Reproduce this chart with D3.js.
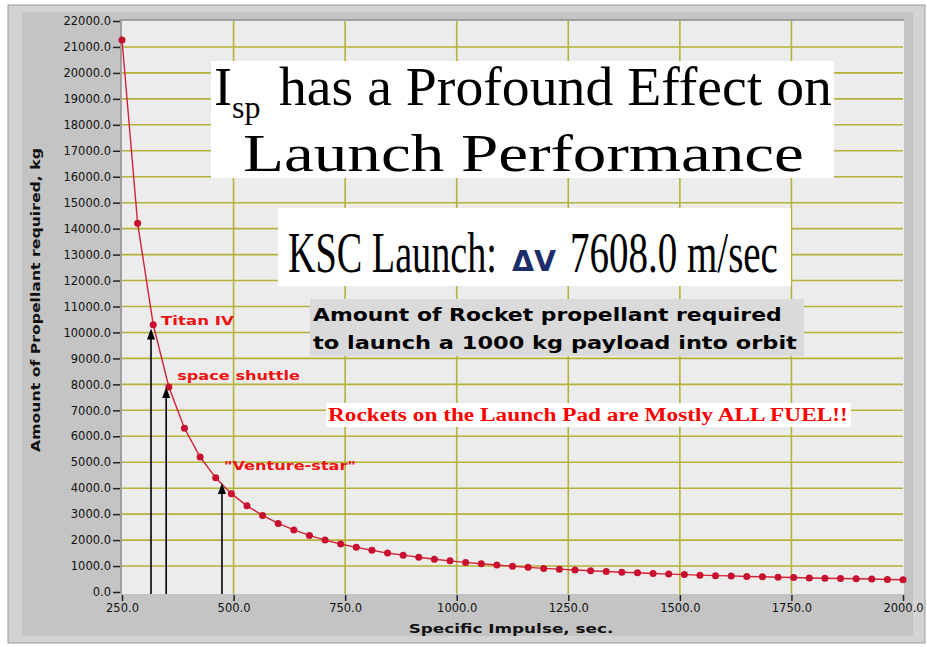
<!DOCTYPE html>
<html>
<head>
<script src="https://cdn.jsdelivr.net/npm/d3@7"></script>
<style>
body { margin: 0; padding: 0; background: #fff; }
text { font-family: "DejaVu Sans", sans-serif; }
.grid line { stroke: #b4b238; stroke-width: 1.6px; }
</style>
</head>
<body>
<svg></svg>
<script>
// specific impulse (sec) of each plotted point
var ispValues = [250, 285, 320, 355, 390, 425, 460, 495, 530, 565, 600, 635, 670, 705, 740,
  775, 810, 845, 880, 915, 950, 985, 1020, 1055, 1090, 1125, 1160, 1195, 1230, 1265, 1300,
  1335, 1370, 1405, 1440, 1475, 1510, 1545, 1580, 1615, 1650, 1685, 1720, 1755, 1790, 1825,
  1860, 1895, 1930, 1965, 2000];
// propellant needed, kg
var propellantKg = [21270, 14210, 10300, 7900, 6310, 5200, 4400, 3790, 3320, 2950, 2640, 2390,
  2180, 2000, 1850, 1720, 1610, 1500, 1420, 1340, 1260, 1200, 1140, 1090, 1040, 990, 950, 910,
  880, 850, 820, 790, 760, 740, 710, 690, 670, 650, 630, 620, 600, 590, 570, 560, 540, 530,
  520, 510, 500, 480, 470];

var xTicks = [250, 500, 750, 1000, 1250, 1500, 1750, 2000];
var yTicks = d3.range(0, 22001, 1000);

var vehicleNames = ['Titan IV', 'space shuttle', '"Venture-star"'];
var vehicleIsp = [315, 349, 474];
var vehicleKg = [10150, 7900, 4200];

var width = 927, height = 647;
var svg = d3.select('svg').attr('width', width).attr('height', height);

// squeeze/stretch a text horizontally to the width it has in the picture
function fit(t, w, extra) {
  var n = t.node().getComputedTextLength();
  var x0 = +t.attr('x'), y0 = +t.attr('y');
  t.attr('x', 0).attr('y', 0)
    .attr('transform', 'translate(' + x0 + ',' + y0 + ')' + (extra || '') + ' scale(' + (w / n) + ',1)');
  return t;
}

// instrument panel frame
svg.append('rect').attr('x', 8).attr('y', 5).attr('width', 917).attr('height', 638)
  .attr('fill', '#d3d3d3').attr('stroke', '#9a9a9a');
svg.append('rect').attr('x', 22).attr('y', 12).attr('width', 891).attr('height', 624)
  .attr('fill', '#c4c4c4');

var x = d3.scaleLinear().domain([250, 2000]).range([122, 903]);
var y = d3.scaleLinear().domain([0, 22000]).range([592, 21]);

svg.append('rect').attr('x', 121).attr('y', 20).attr('width', 783).attr('height', 574)
  .attr('fill', '#ececec');
svg.append('path').attr('d', 'M121,594V20H904')
  .attr('fill', 'none').attr('stroke', '#8c8c8c').attr('stroke-width', 1.5);

var grid = svg.append('g').attr('class', 'grid');
grid.selectAll('.h').data(yTicks.slice(1, -1)).enter().append('line')
  .attr('x1', 122).attr('x2', 903)
  .attr('y1', function(d) { return y(d); }).attr('y2', function(d) { return y(d); });
grid.selectAll('.v').data(xTicks.slice(1, -1)).enter().append('line')
  .attr('y1', 21).attr('y2', 594)
  .attr('x1', function(d) { return x(d); }).attr('x2', function(d) { return x(d); });

// axes
var yAxis = svg.append('g').attr('transform', 'translate(120,0)')
  .call(d3.axisLeft(y).tickValues(yTicks).tickFormat(d3.format('.1f')).tickSize(7).tickPadding(2));
var xAxis = svg.append('g').attr('transform', 'translate(0,595)')
  .call(d3.axisBottom(x).tickValues(xTicks).tickFormat(d3.format('.1f')).tickSize(6).tickPadding(3));
[yAxis, xAxis].forEach(function(a) {
  a.select('.domain').remove();
  a.selectAll('.tick line').attr('stroke', '#222').attr('stroke-width', 1.5);
  a.selectAll('.tick text').attr('fill', '#111').style('font-size', '11.5px')
    .style('font-family', '"DejaVu Sans", sans-serif');
});

fit(svg.append('text').attr('x', 511).attr('y', 633).attr('text-anchor', 'middle')
  .style('font-size', '13px').style('font-weight', 'bold').attr('fill', '#111')
  .text('Specific Impulse, sec.'), 205);
fit(svg.append('text').attr('x', 40).attr('y', 300).attr('text-anchor', 'middle')
  .style('font-size', '13px').style('font-weight', 'bold').attr('fill', '#111')
  .text('Amount of Propellant required, kg'), 304, ' rotate(-90)');

// curve and points
var pts = ispValues.map(function(v, i) { return [v, propellantKg[i]]; });
var line = d3.line().x(function(d) { return x(d[0]); }).y(function(d) { return y(d[1]); });
svg.append('path').datum(pts).attr('d', line)
  .attr('fill', 'none').attr('stroke', '#d22236').attr('stroke-width', 1.4);
svg.selectAll('.pt').data(pts).enter().append('circle')
  .attr('cx', function(d) { return x(d[0]); }).attr('cy', function(d) { return y(d[1]); })
  .attr('r', 3.5).attr('fill', '#c8102e');

// vehicle arrows
var vehicles = vehicleNames.map(function(n, i) { return { name: n, isp: vehicleIsp[i], kg: vehicleKg[i] }; });
var labelDx = [10, 11, 2], labelDy = [-4, -7, -13], labelLen = [73, 123, 132];
vehicles.forEach(function(v, i) {
  var ax = x(v.isp), ay = y(v.kg);
  svg.append('line').attr('x1', ax).attr('x2', ax).attr('y1', ay + 4).attr('y2', 594)
    .attr('stroke', '#000').attr('stroke-width', 1.6);
  svg.append('path').attr('d', 'M' + ax + ',' + ay + 'l4,11h-8z').attr('fill', '#000');
  fit(svg.append('text').attr('x', ax + labelDx[i]).attr('y', ay + labelDy[i])
    .style('font-size', '13px').style('font-weight', 'bold').attr('fill', '#ee1111')
    .text(v.name), labelLen[i]);
});

// title boxes
var serif = '"Liberation Serif", "Times New Roman", serif';
svg.append('rect').attr('x', 211).attr('y', 61).attr('width', 623).attr('height', 117).attr('fill', '#fff');
svg.append('text').attr('x', 214).attr('y', 105).style('font-family', serif).style('font-size', '54px')
  .attr('fill', '#000').text('I');
svg.append('text').attr('x', 232).attr('y', 118).style('font-family', serif).style('font-size', '32px')
  .attr('fill', '#000').text('sp');
fit(svg.append('text').attr('x', 279).attr('y', 105).style('font-family', serif).style('font-size', '54px')
  .attr('fill', '#000').text('has a Profound Effect on'), 553);
fit(svg.append('text').attr('x', 243).attr('y', 171).style('font-family', serif).style('font-size', '52px')
  .attr('fill', '#000').text('Launch Performance'), 561);

svg.append('rect').attr('x', 278).attr('y', 208).attr('width', 513).attr('height', 78).attr('fill', '#fff');
fit(svg.append('text').attr('x', 288).attr('y', 272).style('font-family', serif).style('font-size', '58px')
  .attr('fill', '#000').text('KSC Launch:'), 209);
fit(svg.append('text').attr('x', 512).attr('y', 271).style('font-size', '29px').style('font-weight', 'bold')
  .attr('fill', '#1b2d6b').text('\u0394V'), 44);
fit(svg.append('text').attr('x', 570).attr('y', 272).style('font-family', serif).style('font-size', '58px')
  .attr('fill', '#000').text('7608.0 m/sec'), 208);

svg.append('rect').attr('x', 310).attr('y', 299).attr('width', 494).attr('height', 57).attr('fill', '#dadada');
fit(svg.append('text').attr('x', 313).attr('y', 321).style('font-size', '17px').style('font-weight', 'bold')
  .attr('fill', '#000').text('Amount of Rocket propellant required'), 469);
fit(svg.append('text').attr('x', 313).attr('y', 349).style('font-size', '17px').style('font-weight', 'bold')
  .attr('fill', '#000').text('to launch a 1000 kg payload into orbit'), 484);

svg.append('rect').attr('x', 326).attr('y', 403).attr('width', 525).attr('height', 24).attr('fill', '#fff');
fit(svg.append('text').attr('x', 328).attr('y', 421).style('font-family', serif).style('font-size', '19px')
  .style('font-weight', 'bold').attr('fill', '#ff0000')
  .text('Rockets on the Launch Pad are Mostly ALL FUEL!!'), 520);
</script>
</body>
</html>
